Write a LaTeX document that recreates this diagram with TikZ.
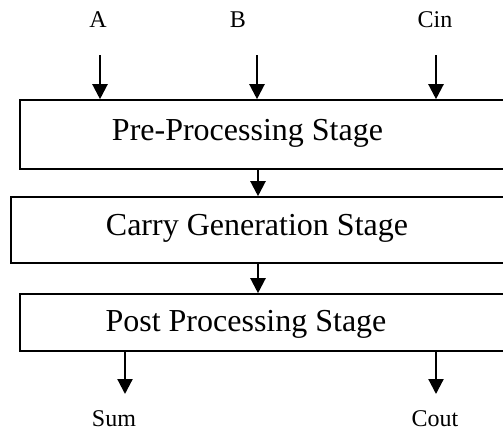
\documentclass[tikz,border=0pt]{standalone}
\usepackage{fontspec}
\setmainfont{Liberation Serif}
\usetikzlibrary{arrows.meta}
\begin{document}
\begin{tikzpicture}[x=1pt,y=-1pt,
  stagebox/.style={draw, line width=1.6pt, rectangle, inner sep=0pt},
  stagetext/.style={anchor=base, inner sep=0pt, font=\fontsize{32}{38}\selectfont},
  iolabel/.style={anchor=base, inner sep=0pt, font=\fontsize{24}{29}\selectfont},
  arr/.style={line width=2.2pt, -{Triangle[length=15pt,width=15pt]}}]
\useasboundingbox (0,0) rectangle (503,432);
\clip (0,0) rectangle (503,432);
% labels
\node[iolabel] (A) at (98,27) {A};
\node[iolabel] (B) at (238,27) {B};
\node[iolabel] (Cin) at (435,27) {Cin};
\node[iolabel] (Sum) at (114,426) {Sum};
\node[iolabel] (Cout) at (435,426) {Cout};
% boxes
\node[stagebox, minimum width=500pt, minimum height=69pt] (p1) at (270,134.5) {};
\node[stagebox, minimum width=509pt, minimum height=66pt] (p2) at (265.5,230) {};
\node[stagebox, minimum width=500pt, minimum height=57pt] (p3) at (270,322.5) {};
% stage texts
\node[stagetext] (t1) at (247.5,140) {Pre-Processing Stage};
\node[stagetext] (t2) at (257,235) {Carry Generation Stage};
\node[stagetext] (t3) at (246,331.5) {Post Processing Stage};
% arrow anchors
\coordinate (ia) at (100,55);
\coordinate (ib) at (257,55);
\coordinate (ic) at (436,55);
\coordinate (mid) at (258,0);
\coordinate (os) at (125,394);
\coordinate (oc) at (436,394);
% connectors
\draw[arr] (ia) -- (ia |- p1.north);
\draw[arr] (ib) -- (ib |- p1.north);
\draw[arr] (ic) -- (ic |- p1.north);
\draw[arr] (p1.south -| mid) -- (p2.north -| mid);
\draw[arr] (p2.south -| mid) -- (p3.north -| mid);
\draw[arr] (p3.south -| os) -- (os);
\draw[arr] (p3.south -| oc) -- (oc);
\end{tikzpicture}
\end{document}
